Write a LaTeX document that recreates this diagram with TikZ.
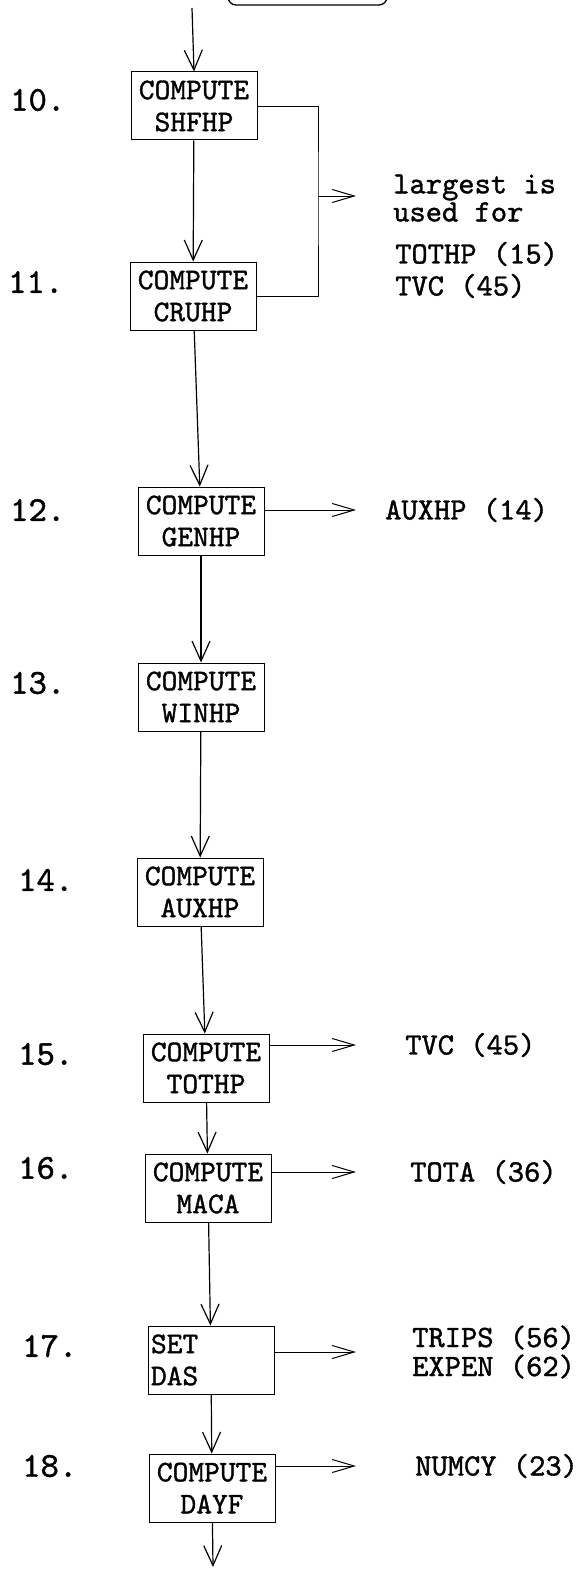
\documentclass[tikz,border=0pt]{standalone}
\usepackage{fontspec}
\usetikzlibrary{arrows.meta}

\newfontfamily\typefont{lmmono10-regular.otf}[FakeBold=1.2]
\newcommand{\boxfont}{\typefont\fontsize{30}{32}\selectfont}
\newcommand{\notefont}{\typefont\fontsize{31}{32}\selectfont}
\newcommand{\stepfont}{\typefont\fontsize{35}{36}\selectfont}

\begin{document}
\begin{tikzpicture}[
    x=1pt, y=1pt,
    block/.style={draw, line width=1pt, minimum width=126pt, minimum height=68pt,
      inner sep=0pt, align=center, font=\boxfont},
    flow/.style={line width=1.2pt, -{Straight Barb[length=20pt,width=18pt,line width=1.2pt]}},
    side/.style={line width=0.7pt, -{Straight Barb[length=22pt,width=13pt,line width=1pt]}},
    link/.style={line width=0.7pt},
    note/.style={anchor=west, inner sep=0pt, align=left, font=\notefont},
    stepno/.style={anchor=west, inner sep=0pt, font=\stepfont},
  ]
    \useasboundingbox (0,0) rectangle (577,-1570);
    \clip (0,0) rectangle (577,-1570);

    % box cut off at the top of the page
    \node[draw, rounded corners=8pt, line width=1.3pt, minimum width=159pt,
      minimum height=40pt] (prev) at (307.5,15) {};
    \coordinate (entry) at (192,-8);

    % flow chart
    \node[block] (shfhp) at (194,-106)  {COMPUTE\\SHFHP};
    \node[block] (cruhp) at (193,-296)  {COMPUTE\\CRUHP};
    \node[block] (genhp) at (201,-521)  {COMPUTE\\GENHP};
    \node[block] (winhp) at (201,-697)  {COMPUTE\\WINHP};
    \node[block] (auxhp) at (200,-892)  {COMPUTE\\AUXHP};
    \node[block] (tothp) at (206,-1068) {COMPUTE\\TOTHP};
    \node[block] (maca)  at (208,-1188) {COMPUTE\\MACA};
    \node[block, align=left, text width=120pt, inner xsep=3pt] (das) at (211,-1360) {SET\\DAS};
    \node[block] (dayf)  at (212,-1488) {COMPUTE\\DAYF};
    \coordinate (exit) at (213,-1567);

    % step numbers
    \node[stepno] (n10) at (10,-100)  {10.};
    \node[stepno] (n11) at (8,-282)   {11.};
    \node[stepno] (n12) at (10,-510)  {12.};
    \node[stepno] (n13) at (10,-683)  {13.};
    \node[stepno] (n14) at (18,-880)  {14.};
    \node[stepno] (n15) at (18,-1054) {15.};
    \node[stepno] (n16) at (18,-1168) {16.};
    \node[stepno] (n17) at (22,-1346) {17.};
    \node[stepno] (n18) at (22,-1466) {18.};

    % outputs
    \coordinate (join) at (318,-196);
    \coordinate (tipline) at (356,0);
    \node[note, font=\typefont\fontsize{31}{28}\selectfont] (rule) at (393,-198) {largest is\\used for};
    \node[note] (targets) at (395,-270) {TOTHP (15)\\TVC (45)};
    \node[note] (toaux)   at (385,-510)  {AUXHP (14)};
    \node[note] (totvc)   at (405,-1045) {TVC (45)};
    \node[note] (tota)    at (410,-1172) {TOTA (36)};
    \node[note, font=\typefont\fontsize{31}{29}\selectfont] (trips) at (412,-1352) {TRIPS (56)\\EXPEN (62)};
    \node[note] (numcy)   at (415,-1466) {NUMCY (23)};

    \draw[flow] (entry) -- (shfhp.north);
    \draw[flow] (shfhp) -- (cruhp);
    \draw[flow] (cruhp) -- (genhp);
    \draw[flow] (genhp) -- (winhp);
    \draw[flow] (winhp) -- (auxhp);
    \draw[flow] (auxhp) -- (tothp);
    \draw[flow] (tothp) -- (maca);
    \draw[flow] (maca) -- (das);
    \draw[flow] (das) -- (dayf);
    \draw[flow] (dayf) -- (exit);

    \draw[link] (shfhp.east) -| (join) |- (cruhp.east);
    \draw[side] (join) -- (tipline |- join);
    \draw[side] (genhp.east |- toaux) -- (tipline |- toaux);
    \draw[side] (tothp.east |- totvc) -- (tipline |- totvc);
    \draw[side] (maca.east |- tota) -- (tipline |- tota);
    \draw[side] (das.east |- trips) -- (tipline |- trips);
    \draw[side] (dayf.east |- numcy) -- (tipline |- numcy);
\end{tikzpicture}
\end{document}
